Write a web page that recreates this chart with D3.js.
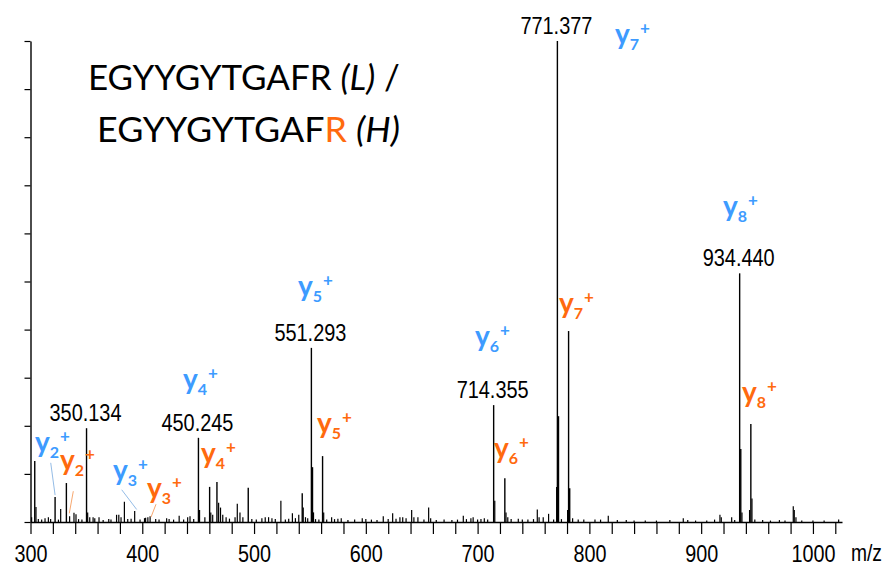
<!DOCTYPE html>
<html>
<head>
<meta charset="utf-8">
<script src="https://d3js.org/d3.v7.min.js"></script>
<style>
  body { margin: 0; background: #fff; }
  svg { display: block; }
</style>
</head>
<body>
<script>
let width = 888, height = 568;

// stick spectrum: [m/z, relative intensity %]
let peaks = [
  [301, 1], [303.8, 12.7], [304.9, 3.1], [307, 0.6], [310, 0.5], [313, 0.8], [316, 1], [318, 0.6],
  [322.0, 5.2], [325, 0.5], [327, 2.7], [332.1, 8.1], [335, 1.2], [338.9, 1.9], [340.7, 1.6],
  [343, 0.6], [346, 0.5], [350.134, 19.5], [351.14, 2], [353, 1], [356, 1], [357.5, 0.8],
  [361.3, 1], [365, 0.4], [370, 0.6], [372, 0.5], [377, 1.5], [379, 1.5], [381, 1], [384, 4.2],
  [387, 0.6], [390, 0.7], [393.2, 2.3], [398, 0.5], [402, 0.8], [403, 0.9], [405, 1], [407, 1.2],
  [412, 0.6], [415, 0.5], [421.8, 0.8], [424, 0.6], [428, 0.5], [433, 1.3], [437, 0.5],
  [440.6, 1], [442.7, 1.2], [446, 0.6], [450.245, 17.5], [451.25, 2.5], [456, 1], [460.25, 7.3],
  [461.3, 2], [463, 1.5], [466.8, 8.3], [468.3, 4], [470, 3], [472, 1.5], [475, 1], [478, 0.7],
  [483, 1], [485, 3.8], [487.4, 2], [490, 1], [494.8, 7.1], [498, 0.6], [502, 0.5], [507, 0.8],
  [510, 1], [513, 1], [516, 0.8], [519, 0.6], [524, 4.4], [528, 0.5], [531, 0.7], [534.3, 1.8],
  [537, 0.8], [540, 1.5], [543.1, 6], [544, 3], [546, 1], [548, 0.8], [551.293, 36.2],
  [552.3, 11.4], [553.2, 2], [555, 0.6], [558, 0.5], [561.3, 13.7], [562.3, 2], [565, 0.5],
  [569.4, 1], [572, 0.6], [575, 0.7], [578, 0.8], [584, 0.4], [590, 0.5], [596.8, 0.8],
  [600, 0.6], [605, 0.5], [610, 0.4], [615.6, 1.2], [620, 0.6], [624, 1.8], [627, 0.7],
  [630.5, 1], [633, 1], [636, 0.8], [641, 2.5], [643, 1], [646.6, 1], [652, 0.5], [656.2, 3],
  [658, 0.8], [663, 0.4], [670, 0.5], [677, 0.4], [682, 0.5], [687.2, 1.3], [690, 0.6],
  [694, 0.8], [696, 1], [700, 0.5], [703, 0.6], [706, 0.8], [709, 0.5], [714.355, 24.3],
  [715.36, 4.4], [724.36, 9.1], [725.4, 2], [727, 1], [730, 0.6], [736.4, 0.7], [740, 0.5],
  [745, 0.5], [750, 0.6], [753.4, 2.6], [755, 1], [758.7, 1], [763.5, 1.7], [768, 0.5],
  [770.8, 7.3], [771.377, 100], [772.38, 22], [775, 0.6], [780.5, 2.5], [781.39, 39.7],
  [782.39, 7], [785, 0.8], [790, 0.5], [795, 0.5], [805, 0.5], [810, 0.5], [816.9, 1.3],
  [825, 0.4], [833, 0.4], [840, 0.3], [850, 0.3], [860, 0.3], [872, 0.4], [884, 0.8],
  [888, 0.4], [895, 0.3], [905, 0.3], [912, 0.5], [916.8, 1.5], [918, 1], [927.3, 1],
  [930, 0.4], [934.44, 51.7], [935.44, 15.2], [936.5, 2], [943.3, 2.5], [944.45, 20.4],
  [945.45, 4.9], [948, 0.5], [955, 0.4], [962, 0.3], [970, 0.4], [975, 0.3], [982.4, 3.3],
  [983.3, 2.5], [984.8, 1], [990, 0.3], [1000, 0.3], [1010, 0.3], [1023, 0.5]
];

// peaks that get their m/z written above them
let massLabels = [350.134, 450.245, 551.293, 714.355, 771.377, 934.44];

// ion labels: [number, colour, m/z of left edge, intensity of baseline]
let ionLabels = [
  ["7", "blue", 822.9, 99.4],
  ["8", "blue", 919.5, 63.6],
  ["5", "blue", 539.3, 47.0],
  ["6", "blue", 697.6, 36.6],
  ["4", "blue", 436.4, 27.7],
  ["2", "blue", 304.0, 14.6],
  ["3", "blue", 373.8, 8.7],
  ["2", "orange", 326.4, 10.8],
  ["3", "orange", 404.2, 5.0],
  ["4", "orange", 452.5, 12.3],
  ["5", "orange", 556.3, 18.5],
  ["6", "orange", 714.6, 13.3],
  ["7", "orange", 772.8, 43.5],
  ["8", "orange", 936.5, 25.0]
];

// thin leader lines from small labels to their peaks: [colour, mz1, int1, mz2, int2]
let leaders = [
  ["blue", 318.1, 12.3, 322.0, 5.6],
  ["orange", 338.3, 6.4, 334.7, 1.8],
  ["blue", 381.6, 6.7, 395.0, 2.6],
  ["orange", 412.3, 3.7, 407.8, 1.0]
];

let xTicks = d3.range(300, 1021, 20);
let yTicks = d3.range(0, 101, 10);

let colors = { blue: "#3d9bff", orange: "#ff6a0e" };
let leaderColors = { blue: "#94bce6", orange: "#f7a870" };

let svg = d3.select("body").append("svg")
  .attr("width", width)
  .attr("height", height);

let x = d3.scaleLinear().domain([300, 1026]).range([30.5, 842]);
let y = d3.scaleLinear().domain([0, 100]).range([522, 41]);

// sticks
svg.append("g").selectAll("line")
  .data(peaks)
  .join("line")
    .attr("x1", d => x(d[0]))
    .attr("x2", d => x(d[0]))
    .attr("y1", y(0))
    .attr("y2", d => y(d[1]))
    .style("stroke", "black")
    .style("stroke-width", d => d[1] > 5 ? 1.4 : 1.2);

// axes
let numFont = "'Liberation Sans Narrow', 'Arial Narrow', 'Liberation Sans', Arial, sans-serif";

let xAxis = svg.append("g")
  .attr("transform", `translate(0,${y(0)})`)
  .call(d3.axisBottom(x).tickValues(xTicks).tickSize(12).tickSizeOuter(0)
    .tickFormat(d => d % 100 === 0 ? d : ""));
xAxis.select(".domain").style("stroke-width", 1.4);
xAxis.selectAll(".tick line").style("stroke-width", 1.2);
xAxis.selectAll(".tick text")
  .attr("y", 40).attr("dy", 0)
  .style("font-family", numFont)
  .style("font-size", "24px")
  .style("fill", "#000")
  .attr("textLength", d => d % 100 === 0 ? String(d).length * 11 : null)
  .attr("lengthAdjust", "spacingAndGlyphs");

let yAxis = svg.append("g")
  .attr("transform", `translate(${x(300)},0)`)
  .call(d3.axisLeft(y).tickValues(yTicks).tickSize(6).tickSizeOuter(0).tickFormat(""));
yAxis.select(".domain").style("stroke-width", 1.4);
yAxis.selectAll(".tick line").style("stroke-width", 1.2);

svg.append("text")
  .attr("x", 851).attr("y", 561)
  .style("font-family", numFont)
  .style("font-size", "24px")
  .attr("textLength", 31).attr("lengthAdjust", "spacingAndGlyphs")
  .text("m/z");

// m/z labels above the main peaks
svg.append("g").selectAll("text")
  .data(massLabels)
  .join("text")
    .attr("x", d => x(d) - 1)
    .attr("y", d => y(peaks.find(p => p[0] === d)[1]) - 7)
    .attr("text-anchor", "middle")
    .style("font-family", numFont)
    .style("font-size", "24px")
    .attr("textLength", 72).attr("lengthAdjust", "spacingAndGlyphs")
    .text(d => d.toFixed(3));

// leader lines
svg.append("g").selectAll("line")
  .data(leaders)
  .join("line")
    .attr("x1", d => x(d[1])).attr("y1", d => y(d[2]))
    .attr("x2", d => x(d[3])).attr("y2", d => y(d[4]))
    .style("stroke", d => leaderColors[d[0]])
    .style("stroke-width", 1);

// y-ion labels
let ions = svg.append("g").selectAll("text")
  .data(ionLabels)
  .join("text")
    .attr("x", d => x(d[2]))
    .attr("y", d => y(d[3]))
    .style("font-family", "Lato, 'Open Sans', sans-serif")
    .style("font-weight", "bold")
    .style("fill", d => colors[d[1]]);
ions.append("tspan").style("font-size", "28px").text("y");
ions.append("tspan").attr("dy", 6).style("font-size", "16px").text(d => d[0]);
ions.append("tspan").attr("dy", -16).attr("dx", 1).style("font-size", "17px").text("+");

// peptide title
let titleLines = [
  { x0: 88, y0: 90, w: 312, parts: [["EGYYGYTGAFR ", false, "#000"], ["(L)", true, "#000"], [" /", false, "#000"]] },
  { x0: 97, y0: 142, w: 303, parts: [["EGYYGYTGAF", false, "#000"], ["R", false, "#ff6a0e"], [" ", false, "#000"], ["(H)", true, "#000"]] }
];
titleLines.forEach(line => {
  let t = svg.append("text")
    .style("font-family", "Lato, 'Open Sans', sans-serif")
    .style("font-size", "35px")
    .attr("x", 0).attr("y", 0);
  line.parts.forEach(p => {
    t.append("tspan")
      .style("font-style", p[1] ? "italic" : "normal")
      .style("fill", p[2])
      .text(p[0]);
  });
  let bb = t.node().getBBox();
  let k = line.w / bb.width;
  t.attr("transform", `translate(${line.x0 - bb.x * k},${line.y0}) scale(${k},1)`);
});
</script>
</body>
</html>
